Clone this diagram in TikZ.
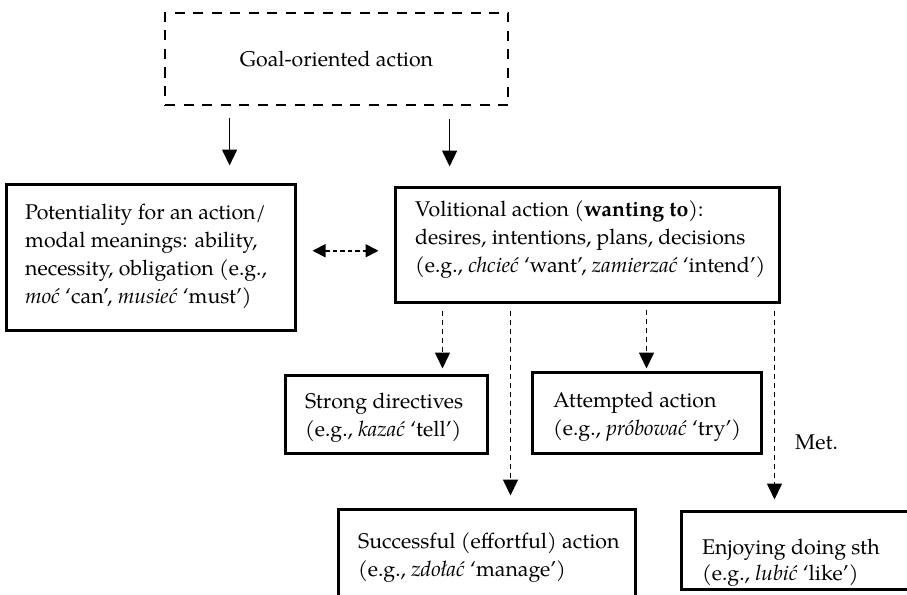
\documentclass[tikz,border=0pt]{standalone}
\usepackage{fontspec}
\setmainfont{TeX Gyre Pagella}
\usetikzlibrary{arrows.meta,calc}
\begin{document}
\begin{tikzpicture}[x=1pt,y=-1pt,
  every node/.style={font=\fontsize{21.3}{28}\selectfont},
  solidbox/.style={draw, line width=3pt, inner sep=0pt},
  dashbox/.style={draw, line width=2.8pt, dash pattern=on 10pt off 8.5pt, inner sep=0pt},
  txt/.style={anchor=base west, inner sep=0pt},
  solidarr/.style={line width=1.5pt, -{Triangle[width=15pt,length=16pt]}},
  dasharr/.style={line width=1.6pt, dash pattern=on 5.5pt off 3.5pt, -{Triangle[width=15pt,length=16pt]}},
  duoarr/.style={line width=1.8pt, dash pattern=on 4.5pt off 3pt, {Triangle[width=13pt,length=13pt]}-{Triangle[width=13pt,length=13pt]}}]
\clip (0,0) rectangle (907,594);
\fill[white] (0,0) rectangle (907,594);
% boxes
\node[dashbox, minimum width=343pt, minimum height=92pt] (goal) at (336.5,59) {Goal-oriented action};
\node[solidbox, minimum width=289pt, minimum height=146pt] (pot) at (150.5,257) {};
\node[solidbox, minimum width=384pt, minimum height=115pt] (vol) at (587,244.5) {};
\node[solidbox, minimum width=202pt, minimum height=78pt] (strong) at (386,414) {};
\node[solidbox, minimum width=229pt, minimum height=81pt] (att) at (646.5,412.5) {};
\node[solidbox, minimum width=297pt, minimum height=131pt] (succ) at (486.5,574.5) {};
\node[solidbox, minimum width=259pt, minimum height=78pt] (enj) at (810.5,550) {};
% texts
\node[txt] (pottext) at (25,219) {\begin{tabular}[t]{@{}l@{}}Potentiality for an action/\\ modal meanings: ability,\\ necessity, obligation (e.g.,\\ \textit{moć} `can', \textit{musieć} `must')\end{tabular}};
\node[txt] (voltext) at (415,216.7) {\begin{tabular}[t]{@{}l@{}}Volitional action (\textbf{wanting to}):\\ desires, intentions, plans, decisions\\ (e.g., \textit{chcieć} `want', \textit{zamierzać} `intend')\end{tabular}};
\node[txt] (strongtext) at (305,408) {\begin{tabular}[t]{@{}l@{}}Strong directives\\ (e.g., \textit{kazać} `tell')\end{tabular}};
\node[txt] (atttext) at (553,407) {\begin{tabular}[t]{@{}l@{}}Attempted action\\ (e.g., \textit{próbować} `try')\end{tabular}};
\node[txt] (succtext) at (358,548) {\begin{tabular}[t]{@{}l@{}}Successful (effortful) action\\ (e.g., \textit{zdołać} `manage')\end{tabular}};
\node[txt] (enjtext) at (702,554) {\begin{tabular}[t]{@{}l@{}}Enjoying doing sth\\[-2pt] (e.g., \textit{lubić} `like')\end{tabular}};
\node[txt] (met) at (795,449) {Met.};
% connectors
\draw[solidarr, shorten <=12pt, shorten >=17pt] ([xshift=66pt]goal.south west) -- ([xshift=66pt]goal.south west |- pot.north);
\draw[solidarr, shorten <=13pt, shorten >=19pt] ([xshift=286pt]goal.south west) -- ([xshift=286pt]goal.south west |- vol.north);
\coordinate (mid) at ($(pot.east)!0.5!(vol.west)$);
\draw[duoarr, shorten <=16pt, shorten >=15pt] (pot.east |- mid) -- (vol.west |- mid);
\draw[dasharr, shorten <=7pt, shorten >=5pt] ([xshift=49pt]vol.south west) -- ([xshift=49pt]vol.south west |- strong.north);
\draw[dasharr, shorten <=7pt, shorten >=12pt] ([xshift=117pt]vol.south west) -- ([xshift=117pt]vol.south west |- succ.north);
\draw[dasharr, shorten <=6pt, shorten >=2pt] (att.north |- vol.south) -- (att.north);
\draw[dasharr, shorten <=7pt, shorten >=10pt] ([xshift=381pt]vol.south west) -- ([xshift=381pt]vol.south west |- enj.north);
\end{tikzpicture}
\end{document}
